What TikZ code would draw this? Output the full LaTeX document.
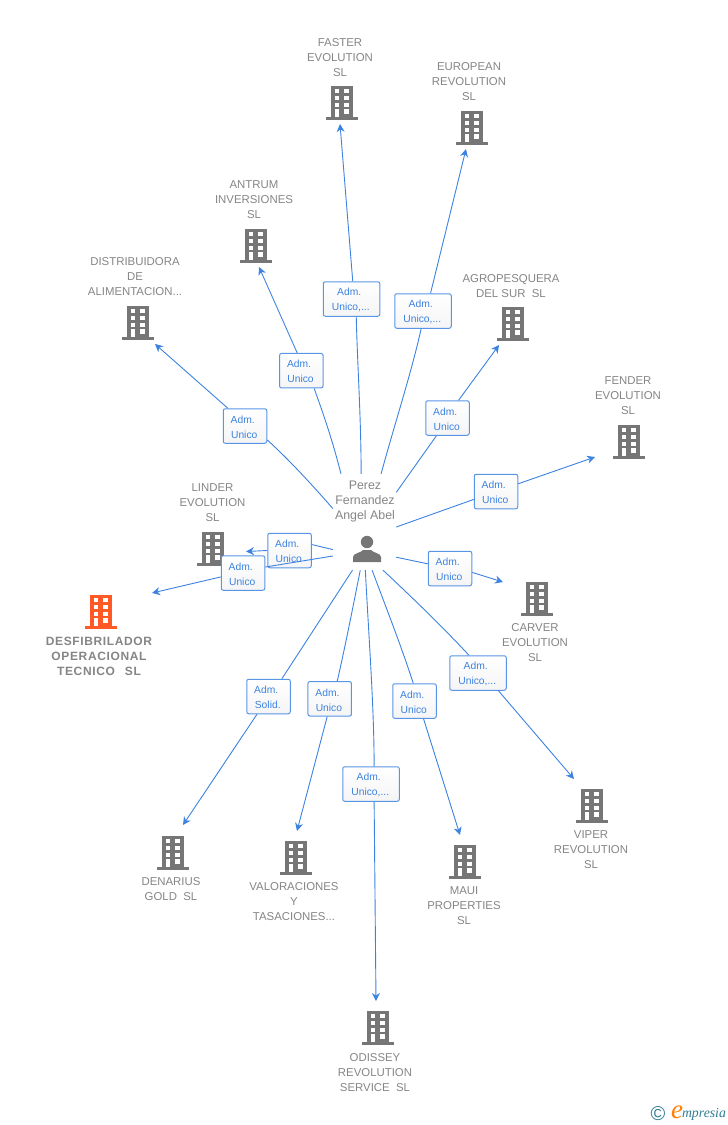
\documentclass[tikz,border=0pt]{standalone}
\usepackage{fontspec}
\setmainfont{Liberation Sans}
\newfontfamily\logofont{Liberation Serif}
\newfontfamily\mainfirmfont[LetterSpace=5.3]{Liberation Sans}
\usetikzlibrary{arrows.meta}
\definecolor{linkblue}{HTML}{3C82E0}
\definecolor{iconheavy}{HTML}{767676}
\definecolor{labelgrey}{HTML}{858585}
\definecolor{mainorange}{HTML}{FF5A26}
\definecolor{logoteal}{HTML}{2F7C94}
\newcommand\rolelabel[1]{\rule{0pt}{9.5pt}Adm.\kern4.5pt\\#1\kern1.5pt}
\tikzset{
  firm/.style={text=labelgrey, align=center, inner sep=0pt, font=\fontsize{11.4}{15}\selectfont},
  mainfirm/.style={firm, font=\mainfirmfont\fontsize{12}{15}\selectfont\bfseries},
  holder/.style={firm, font=\fontsize{12.4}{15}\selectfont},
  rolebox/.style={draw=linkblue!85!white, top color=white, bottom color=black!4, rounded corners=2pt,
    line width=1pt, text=linkblue, align=center, inner sep=0pt, minimum height=34.5pt,
    text width=#1, font=\fontsize{10.3}{15}\selectfont},
  rolebox/.default=43.5pt,
  link/.style={draw=linkblue, line width=0.9pt},
  linkarrow/.style={link, -{Stealth[length=8pt,width=8pt]}},
  frame/.style={inner sep=0pt, minimum width=63pt, minimum height=96pt},
  building/.pic={
    \fill[pic actions] (-11,-16) rectangle (11,15);
    \fill[pic actions] (-16,15) rectangle (16,18);
    \foreach \ytop/\ybot in {-12.7/-8.7,-6/-2,0.7/5}{
      \fill[white] (-7,\ytop) rectangle (-2.7,\ybot);
      \fill[white] (2.3,\ytop) rectangle (7.3,\ybot);
    }
    \fill[white] (-7,7.3) rectangle (-2.7,15);
    \fill[white] (2.3,7.3) rectangle (7.3,11.5);
  },
  personicon/.pic={
    \fill[iconheavy] (0,-6) circle (6.2);
    \fill[iconheavy] (-14,14) -- (-14,9) .. controls (-14,5) and (-6,5) .. (-4,2)
      -- (4,2) .. controls (6,5) and (14,5) .. (14,9) -- (14,14) -- cycle;
  }
}
\begin{document}
\begin{tikzpicture}[x=1pt,y=-1pt]
  \useasboundingbox (0,0) rectangle (728,1125);
  % companies
  \pic[iconheavy] at (342,102) {building};
  \pic[iconheavy] at (471.5,127) {building};
  \pic[iconheavy] at (256,245) {building};
  \pic[iconheavy] at (138,322) {building};
  \pic[iconheavy] at (513,323) {building};
  \pic[iconheavy] at (629,441) {building};
  \pic[iconheavy] at (213,548) {building};
  \pic[mainorange] at (101,611) {building};
  \pic[iconheavy] at (537,598) {building};
  \pic[iconheavy] at (592,805) {building};
  \pic[iconheavy] at (465,861) {building};
  \pic[iconheavy] at (378,1027) {building};
  \pic[iconheavy] at (296,857) {building};
  \pic[iconheavy] at (173,852) {building};
  \node[firm] (faster)   at (340,58)   {FASTER\\EVOLUTION\\SL};
  \node[firm] (european) at (469,82)   {EUROPEAN\\REVOLUTION\\SL};
  \node[firm] (antrum)   at (254,200)  {ANTRUM\\INVERSIONES\\SL};
  \node[firm] (distrib)  at (135,277)  {DISTRIBUIDORA\\DE\\ALIMENTACION...};
  \node[firm] (agro)     at (511,286)  {AGROPESQUERA\\DEL SUR\ \ SL};
  \node[firm] (fender)   at (628,396)  {FENDER\\EVOLUTION\\SL};
  \node[firm] (linder)   at (212.5,503) {LINDER\\EVOLUTION\\SL};
  \node[mainfirm] (desfib) at (99,656) {DESFIBRILADOR\\OPERACIONAL\\TECNICO\ \ \kern2pt SL};
  \node[firm] (carver)   at (535,643)  {CARVER\\EVOLUTION\\SL};
  \node[firm] (viper)    at (591,850)  {VIPER\\REVOLUTION\\SL};
  \node[firm] (maui)     at (464,906)  {MAUI\\PROPERTIES\\SL};
  \node[firm] (odissey)  at (375,1073) {ODISSEY\\REVOLUTION\\SERVICE\ \ SL};
  \node[firm] (valor)    at (294,902)  {VALORACIONES\\Y\\TASACIONES...};
  \node[firm] (denarius) at (171,889.5){DENARIUS\\GOLD\ \ SL};
  % holder
  \node[frame]  (perez) at (364.5,522) {};
  \node[holder] (perez name) at (365,501.5) {Perez\\Fernandez\\Angel Abel};
  \pic at (367,548) {personicon};
  % arrow ends
  \coordinate (faster end)   at (340,124);
  \coordinate (european end) at (466,149);
  \coordinate (antrum end)   at (259,267);
  \coordinate (distrib end)  at (155,344);
  \coordinate (agro end)     at (499,345);
  \coordinate (fender end)   at (595,457);
  \coordinate (carver end)   at (503,582);
  \coordinate (viper end)    at (574,779);
  \coordinate (maui end)     at (460,835);
  \coordinate (odissey end)  at (376,1001);
  \coordinate (valor end)    at (297,831);
  \coordinate (denarius end) at (183,825);
  \coordinate (linder end)   at (246,551.5);
  \coordinate (desfib end)   at (152,593);
  % roles
  \node[rolebox=56.5pt] (faster box)   at (351.5,299) {\rolelabel{Unico,...}};
  \node[rolebox=56.5pt] (european box) at (423,311)   {\rolelabel{Unico,...}};
  \node[rolebox]      (antrum box)   at (301.3,370.7) {\rolelabel{Unico}};
  \node[rolebox]      (distrib box)  at (245,426)     {\rolelabel{Unico}};
  \node[rolebox]      (agro box)     at (447.5,418)   {\rolelabel{Unico}};
  \node[rolebox]      (fender box)   at (496,491.5)   {\rolelabel{Unico}};
  \node[rolebox]      (carver box)   at (450,568.5)   {\rolelabel{Unico}};
  \node[rolebox=56.5pt] (viper box)    at (478,673)   {\rolelabel{Unico,...}};
  \node[rolebox]      (maui box)     at (414.5,701)   {\rolelabel{Unico}};
  \node[rolebox=56.5pt] (odissey box)  at (371,784)   {\rolelabel{Unico,...}};
  \node[rolebox]      (valor box)    at (329.7,698.8) {\rolelabel{Unico}};
  \node[rolebox]      (denarius box) at (268.5,696.5) {\rolelabel{Solid.}};
  \node[rolebox]      (linder box)   at (289.5,550.5) {\rolelabel{Unico}};
  \node[rolebox]      (desfib box)   at (243,573)     {\rolelabel{Unico}};
  % links
  \draw[link] (perez.94) .. controls +(0,-55) and +(1,45) .. (faster box.-75.6);
  \draw[linkarrow] (faster box.86) -- (faster end);
  \draw[link] (perez.71.3) .. controls +(13,-48) and +(-10,45) .. (european box.264.5);
  \draw[linkarrow] (european box.67.6) -- (european end);
  \draw[link] (perez.116.8) .. controls +(-9,-35) and +(10,28) .. (antrum box.-54.8);
  \draw[linkarrow] (antrum box.103) -- (antrum end);
  \draw[link] (perez.157.6) .. controls +(-20,-23) and +(22,20) .. (distrib box.-32);
  \draw[linkarrow] (distrib box.134) -- (distrib end);
  \draw[link] (perez.43.6) -- (agro box.238.3);
  \draw[linkarrow] (agro box.58) -- (agro end);
  \draw[link] (perez.-9) -- (fender box);
  \draw[linkarrow] (fender box) -- (fender end);
  \draw[link] (perez.-48.8) -- (carver box);
  \draw[linkarrow] (carver box.-10.5) -- (carver end);
  \draw[link] (perez.-69) .. controls +(30,28) and +(-25,-27) .. (viper box.117.5);
  \draw[linkarrow] (viper box.-41.3) -- (viper end);
  \draw[link] (perez.-81.3) .. controls +(13,35) and +(-13,-40) .. (maui box.94);
  \draw[linkarrow] (maui box.-63) -- (maui end);
  \draw[link] (perez.-89.4) .. controls +(3,60) and +(0,-60) .. (odissey box.80);
  \draw[linkarrow] (odissey box.-80) -- (odissey end);
  \draw[link] (perez.-95.2) .. controls +(-8,40) and +(7,-30) .. (valor box.67.6);
  \draw[linkarrow] (valor box.262) -- (valor end);
  \draw[link] (perez.-104.3) -- (denarius box.53.4);
  \draw[linkarrow] (denarius box.237.8) -- (denarius end);
  \draw[link] (perez.221.6) -- (linder box.15);
  \draw[linkarrow] (linder box.west) -- (linder end);
  \draw[link] (perez.227.2) -- (desfib box.15);
  \draw[linkarrow] (desfib box.190) -- (desfib end);
  % logo
  \node[text=logoteal, inner sep=0pt, font=\fontsize{20}{20}\selectfont] (logo c) at (658,1114) {©};
  \node[text=orange, inner sep=0pt, font=\logofont\itshape\fontsize{27}{27}\selectfont] (logo e) at (677,1112) {e};
  \node[text=logoteal, inner sep=0pt, font=\logofont\itshape\fontsize{13.8}{15}\selectfont] (logo name) at (704,1114.5) {mpresia};
\end{tikzpicture}
\end{document}
